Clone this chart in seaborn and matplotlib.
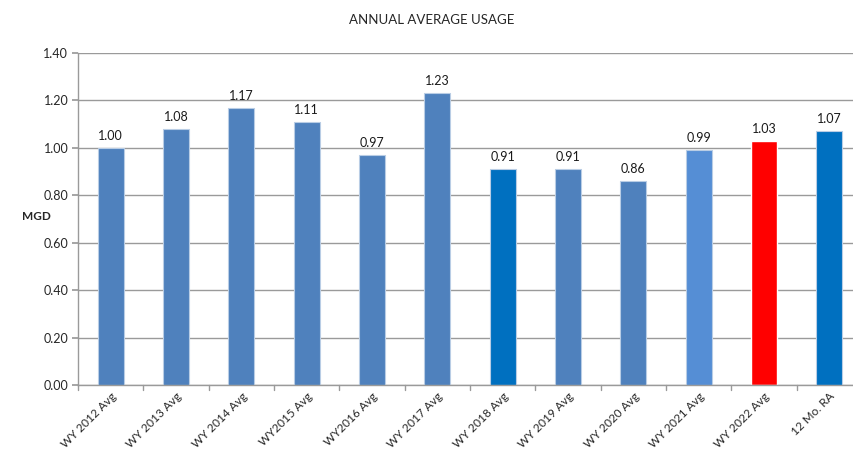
import matplotlib
matplotlib.use("Agg")
import matplotlib.pyplot as plt
import seaborn as sns
import pandas as pd

categories = ["WY 2012 Avg", "WY 2013 Avg", "WY 2014 Avg", "WY2015 Avg", "WY2016 Avg",
              "WY 2017 Avg", "WY 2018 Avg", "WY 2019 Avg", "WY 2020 Avg", "WY 2021 Avg",
              "WY 2022 Avg", "12 Mo. RA"]
values = [1.00, 1.08, 1.17, 1.11, 0.97, 1.23, 0.91, 0.91, 0.86, 0.99, 1.03, 1.07]
bar_colors = ["#4F81BD", "#4F81BD", "#4F81BD", "#4F81BD", "#4F81BD", "#4F81BD",
              "#0070C0", "#4F81BD", "#4F81BD", "#558ED5", "#FF0000", "#0070C0"]
y_ticks = [0.0, 0.2, 0.4, 0.6, 0.8, 1.0, 1.2, 1.4]

sns.set_theme(style="white")
plt.rcParams["font.family"] = ["Lato", "DejaVu Sans"]

df = pd.DataFrame({"period": categories, "mgd": values})

fig = plt.figure(figsize=(8.54, 4.53), dpi=100)
ax = fig.add_axes([78 / 854, 1 - 385 / 453, (862 - 78) / 854, (385 - 53) / 453])

sns.barplot(data=df, x="period", y="mgd", hue="period", palette=bar_colors,
            width=0.4, legend=False, ax=ax, saturation=1)
for p in ax.patches:
    if p.get_facecolor()[:3] != (1.0, 0.0, 0.0):
        p.set_edgecolor("#B9CDE5")
        p.set_linewidth(0.8)

ax.set_ylim(0, 1.4)
ax.set_xlim(-0.5, len(categories) - 0.5)
ax.set_yticks(y_ticks)
ax.set_yticklabels([f"{t:.2f}" for t in y_ticks], fontsize=9)
ax.yaxis.grid(True, color="#9A9A9A", linewidth=1)
ax.set_axisbelow(True)

for i, v in enumerate(values):
    ax.text(i, v + 0.025, f"{v:.2f}", ha="center", va="bottom", fontsize=9, color="#1A1A1A")

# category boundary ticks along the bottom
ax.set_xticks(range(len(categories)))
ax.set_xticklabels(categories, rotation=45, ha="right", rotation_mode="anchor", fontsize=8.5)
ax.tick_params(axis="x", length=0, pad=4)
for b in range(len(categories) + 1):
    ax.plot([b - 0.5, b - 0.5], [0, -0.02], color="#9A9A9A", lw=1, clip_on=False)
ax.tick_params(axis="y", length=4, color="#9A9A9A", direction="out", left=True, pad=3)

for side in ["top", "right"]:
    ax.spines[side].set_visible(False)
for side in ["left", "bottom"]:
    ax.spines[side].set_color("#9A9A9A")
    ax.spines[side].set_linewidth(1)

ax.set_xlabel("")
ax.set_ylabel("")
fig.text(22 / 854, 1 - 217 / 453, "MGD", fontsize=8.5, fontweight="bold", va="center", ha="left")
fig.text(432 / 854, 1 - 20 / 453, "ANNUAL AVERAGE USAGE", fontsize=9.5, ha="center", va="center")

fig.savefig("out.png", dpi=100)
